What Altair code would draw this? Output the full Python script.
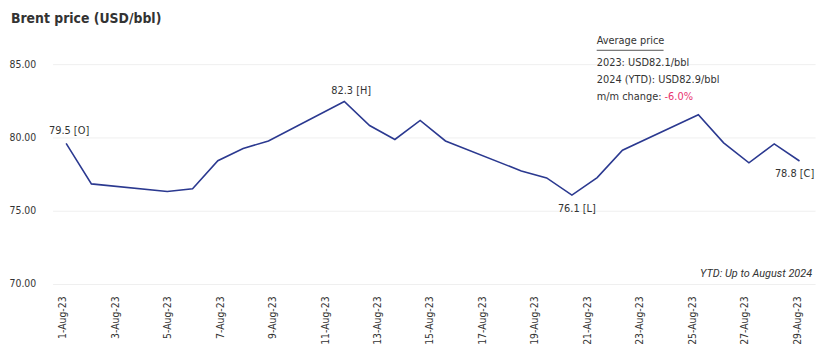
import altair as alt
import pandas as pd

# ---- data ----
days = [1, 2, 5, 6, 7, 8, 9, 12, 13, 14, 15, 16, 19, 20, 21, 22, 23, 26, 27, 28, 29, 30]
prices = [79.59, 76.83, 76.31, 76.50, 78.41, 79.25, 79.76, 82.45, 80.81, 79.86, 81.16,
          79.76, 77.71, 77.24, 76.07, 77.26, 79.13, 81.55, 79.63, 78.27, 79.56, 78.39]

tick_days = [1, 3, 5, 7, 9, 11, 13, 15, 17, 19, 21, 23, 25, 27, 29]
tick_labels = ["1-Aug-23", "3-Aug-23", "5-Aug-23", "7-Aug-23", "9-Aug-23", "11-Aug-23",
               "13-Aug-23", "15-Aug-23", "17-Aug-23", "19-Aug-23", "21-Aug-23",
               "23-Aug-23", "25-Aug-23", "27-Aug-23", "29-Aug-23"]

point_days = [1, 12, 21, 30]
point_texts = ["79.5 [O]", "82.3 [H]", "76.1 [L]", "78.8 [C]"]

title_text = "Brent price (USD/bbl)"
avg_head = "Average price"
avg_lines = ["2023: USD82.1/bbl", "2024 (YTD): USD82.9/bbl"]
mm_label = "m/m change:"
mm_value = "-6.0%"
note_text = "YTD: Up to August 2024"

FONT = "'DejaVu Sans Condensed', 'Roboto Condensed', Roboto, sans-serif"
TXT = "#333333"
LINE = "#2b3990"
PINK = "#e8336f"

df = pd.DataFrame({"day": days, "price": prices})
ticks_df = pd.DataFrame({"day": tick_days, "label": tick_labels})
one = pd.DataFrame({"k": [0]})

W, H = 770, 222

xdata = alt.Scale(domain=[0.464, 30.615], nice=False, zero=False)
yscale = alt.Scale(domain=[70, 85], nice=False, zero=False)
yaxis = alt.Axis(values=[70, 75, 80, 85], format=".2f", ticks=False, domain=False,
                 labelPadding=17, labelFont=FONT, labelFontSize=10.5, labelColor=TXT,
                 gridColor="#efefef", gridWidth=1, title=None)

line = alt.Chart(df).mark_line(color=LINE, strokeWidth=1.6).encode(
    x=alt.X("day:Q", scale=xdata, axis=None),
    y=alt.Y("price:Q", scale=yscale, axis=yaxis),
)

label_expr = "[" + ",".join("'%s'" % t for t in tick_labels) + "][(datum.value-1)/2]"
axis_layer = alt.Chart(ticks_df).mark_point(opacity=0).encode(
    x=alt.X("day:Q", scale=alt.Scale(domain=[0.611, 29.68], nice=False, zero=False),
            axis=alt.Axis(values=tick_days, labelExpr=label_expr, labelAngle=-90,
                          ticks=False, domain=False, grid=False, labelPadding=12,
                          labelFont=FONT, labelFontSize=10.5, labelColor=TXT, title=None)),
    y=alt.value(H),
)

offsets = [(3, -13), (7, -11), (5, 14), (-5, 13)]
label_layers = []
for d, t, (dx, dy) in zip(point_days, point_texts, offsets):
    sub = df[df["day"] == d].assign(txt=t)
    label_layers.append(
        alt.Chart(sub).mark_text(font=FONT, fontSize=11, color=TXT, dx=dx, dy=dy,
                                 align="center", baseline="middle").encode(
            x=alt.X("day:Q", scale=xdata, axis=None),
            y=alt.Y("price:Q", scale=yscale, axis=yaxis),
            text="txt:N",
        )
    )

def anno(text, x, y, color=TXT, size=11, align="left", italic=False, font=FONT, bold=False):
    return alt.Chart(one).mark_text(font=font, fontSize=size, color=color, align=align,
                                    baseline="middle",
                                    fontWeight="bold" if bold else "normal",
                                    fontStyle="italic" if italic else "normal").encode(
        x=alt.value(x), y=alt.value(y), text=alt.value(text))

annos = [
    anno(title_text, -42, -46, size=14, bold=True),
    anno(avg_head, 549.5, -23.5),
    anno(avg_lines[0], 549.5, -1.5),
    anno(avg_lines[1], 549.5, 16),
    anno(mm_label, 549.5, 33),
    anno(mm_value, 618, 33, color=PINK),
    anno(note_text, 767, 211.5, size=11, align="right", italic=True, font="Roboto"),
]
underline = alt.Chart(one).mark_rule(color="#555555", strokeWidth=1).encode(
    x=alt.value(549.5), x2=alt.value(617), y=alt.value(-14))

chart = alt.layer(line, axis_layer, *label_layers, *annos, underline).resolve_scale(
    x="independent"
).properties(
    width=W, height=H,
    autosize=alt.AutoSizeParams(type="none"),
    padding={"left": 45, "top": 55, "right": 7, "bottom": 70},
    background="white",
).configure_view(stroke=None)

chart.save("out.html", embed_options={"renderer": "svg", "actions": False})
